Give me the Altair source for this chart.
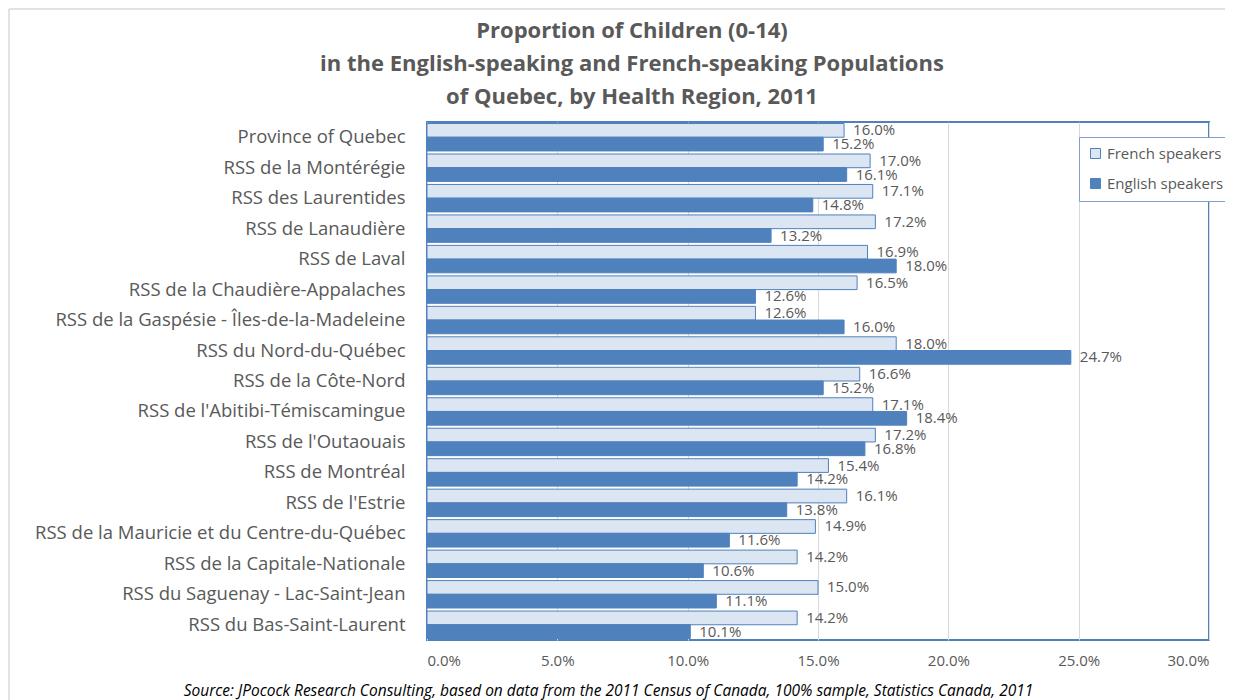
import altair as alt
import pandas as pd

regions = [
    "Province of Quebec",
    "RSS de la Montérégie",
    "RSS des Laurentides",
    "RSS de Lanaudière",
    "RSS de Laval",
    "RSS de la Chaudière-Appalaches",
    "RSS de la Gaspésie - Îles-de-la-Madeleine",
    "RSS du Nord-du-Québec",
    "RSS de la Côte-Nord",
    "RSS de l'Abitibi-Témiscamingue",
    "RSS de l'Outaouais",
    "RSS de Montréal",
    "RSS de l'Estrie",
    "RSS de la Mauricie et du Centre-du-Québec",
    "RSS de la Capitale-Nationale",
    "RSS du Saguenay - Lac-Saint-Jean",
    "RSS du Bas-Saint-Laurent",
]
french = [16.0, 17.0, 17.1, 17.2, 16.9, 16.5, 12.6, 18.0, 16.6, 17.1, 17.2, 15.4, 16.1, 14.9, 14.2, 15.0, 14.2]
english = [15.2, 16.1, 14.8, 13.2, 18.0, 12.6, 16.0, 24.7, 15.2, 18.4, 16.8, 14.2, 13.8, 11.6, 10.6, 11.1, 10.1]
series = ["French speakers", "English speakers"]
x_ticks = [0, 5, 10, 15, 20, 25, 30]

title_lines = [
    "Proportion of Children (0-14)",
    "in the English-speaking and French-speaking Populations",
    "of Quebec, by Health Region, 2011",
]
source = "Source: JPocock Research Consulting, based on data from the 2011 Census of Canada, 100% sample, Statistics Canada, 2011"

rows = []
for r, f, e in zip(regions, french, english):
    rows.append({"Region": r, "Language": series[0], "Value": f, "Label": f"{f:.1f}%"})
    rows.append({"Region": r, "Language": series[1], "Value": e, "Label": f"{e:.1f}%"})
df = pd.DataFrame(rows)

FONT = "Open Sans"
GREY = "#595959"
BLUE = "#4f81bd"
LIGHT = "#dce6f2"

W, H = 782, 518

base = alt.Chart(df)

y_enc = alt.Y(
    "Region:N",
    sort=regions,
    scale=alt.Scale(paddingInner=0.1, paddingOuter=0.05),
    axis=alt.Axis(
        title=None,
        ticks=False,
        domain=False,
        labelPadding=22,
        labelFont=FONT,
        labelFontSize=18.5,
        labelColor=GREY,
        labelLimit=500,
    ),
)
yoff = alt.YOffset("Language:N", sort=series, scale=alt.Scale(domain=series, paddingInner=0.0))

bars = base.mark_bar(stroke=BLUE, strokeWidth=1).encode(
    x=alt.X(
        "Value:Q",
        scale=alt.Scale(domain=[0, 30], nice=False, zero=True),
        axis=alt.Axis(
            values=x_ticks,
            labelExpr="format(datum.value, '.1f') + '%'",
            title=source,
            titleFont=FONT,
            titleFontStyle="italic",
            titleFontWeight="normal",
            titleFontSize=15.5,
            titleColor="#000000",
            titleX=181,
            titleY=50,
            titleAlign="center",
            titleBaseline="middle",
            ticks=False,
            domain=False,
            grid=True,
            gridColor="#d9d9d9",
            labelFont=FONT,
            labelFontSize=15,
            labelColor=GREY,
            labelPadding=13,
        ),
    ),
    y=y_enc,
    yOffset=yoff,
    color=alt.Color(
        "Language:N",
        sort=series,
        scale=alt.Scale(domain=series, range=[LIGHT, BLUE]),
        legend=alt.Legend(
            title=None,
            orient="none",
            legendX=652,
            legendY=15,
            fillColor="white",
            strokeColor="#7f9fd0",
            padding=9,
            rowPadding=14,
            symbolType="square",
            symbolSize=100,
            symbolStrokeColor=BLUE,
            symbolStrokeWidth=1,
            labelFont=FONT,
            labelFontSize=15,
            labelColor=GREY,
            labelOffset=4,
        ),
    ),
)

labels = base.mark_text(
    align="left", baseline="middle", dx=9, font=FONT, fontSize=15, color=GREY
).encode(
    x=alt.X("Value:Q"),
    y=alt.Y("Region:N", sort=regions),
    yOffset=alt.YOffset("Language:N", sort=series),
    text="Label:N",
)

one = alt.Data(values=[{"k": 1}])
frame_left = alt.Chart(one).mark_rule(stroke="#d9d9d9", strokeWidth=1.5).encode(
    x=alt.value(-418), y=alt.value(-113), y2=alt.value(800)
)
frame_top = alt.Chart(one).mark_rule(stroke="#d9d9d9", strokeWidth=1.5).encode(
    x=alt.value(-418), x2=alt.value(1000), y=alt.value(-113)
)

chart = (
    alt.layer(frame_left, frame_top, bars, labels)
    .properties(
        width=W,
        height=H,
        autosize=alt.AutoSizeParams(type="none"),
        padding={"left": 419, "top": 114, "right": 16, "bottom": 70},
        title=alt.TitleParams(
            text=title_lines,
            anchor="middle",
            frame="group",
            dx=-186,
            dy=115,
            offset=14,
            font=FONT,
            fontSize=22,
            fontWeight="bold",
            color=GREY,
            lineHeight=33,
        ),
    )
    .configure_view(stroke=BLUE, strokeWidth=2)
)

chart.save("out.html", embed_options={"renderer": "svg", "actions": False})
